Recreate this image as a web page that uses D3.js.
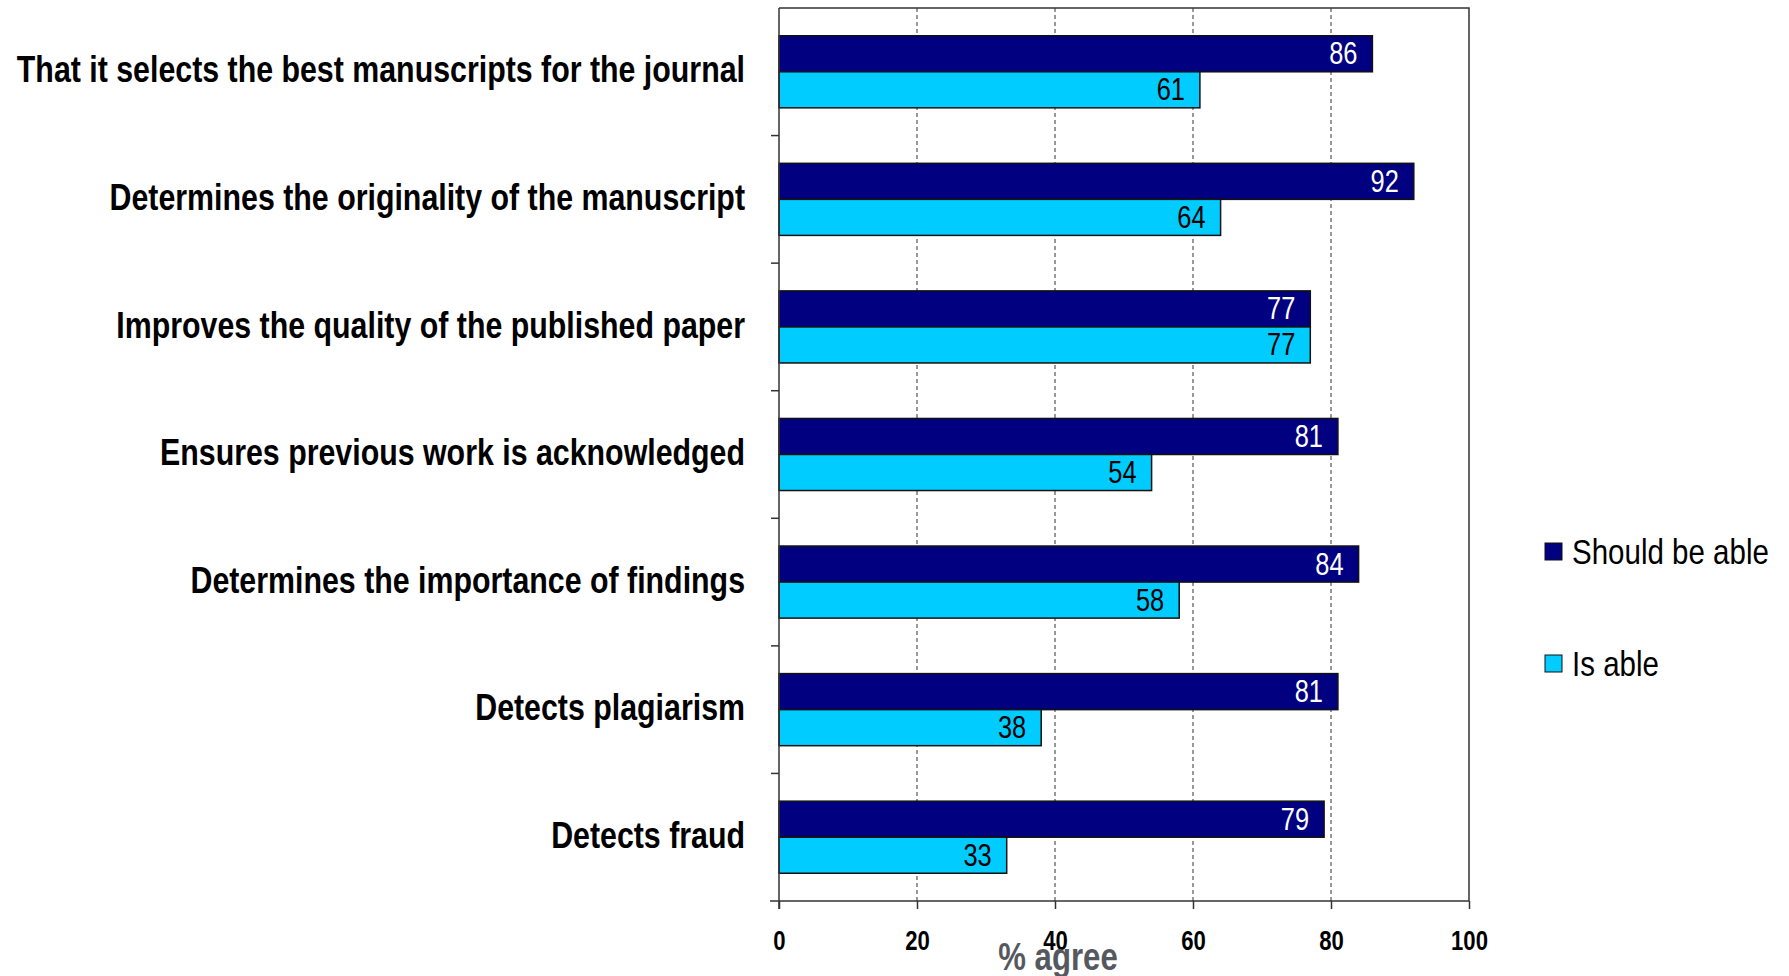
<!DOCTYPE html>
<html>
<head>
<meta charset="utf-8">
<script src="https://cdn.jsdelivr.net/npm/d3@7"></script>
<style>
  body { margin: 0; background: #fff; }
  text { font-family: 'Liberation Sans', Arial, sans-serif; }
</style>
</head>
<body>
<svg id="chart" width="1789" height="976"></svg>
<script>
// data
const categories = [
  "That it selects the best manuscripts for the journal",
  "Determines the originality of the manuscript",
  "Improves the quality of the published paper",
  "Ensures previous work is acknowledged",
  "Determines the importance of findings",
  "Detects plagiarism",
  "Detects fraud"
];
const seriesNames = ["Should be able", "Is able"];
const shouldBeAble = [86, 92, 77, 81, 84, 81, 79];
const isAble = [61, 64, 77, 54, 58, 38, 33];
const xTicks = [0, 20, 40, 60, 80, 100];

const colors = ["#000080", "#00ccff"];
const labelColors = ["#ffffff", "#000000"];

// narrow look: Arial Narrow is Arial squeezed to 82%
const narrow = 0.82;
function squeeze(sel, fx, fy) {
  sel.attr("transform", (d, i) => `translate(${fx(d, i)},${fy(d, i)}) scale(${narrow},1)`)
    .attr("x", 0).attr("y", 0);
}

// layout
let margin = {top: 8, left: 779, right: 320, bottom: 75};
let W = 1789, H = 976;

let svg = d3.select("#chart");

let x = d3.scaleLinear()
  .domain([0, 100])
  .range([margin.left, W - margin.right]);

let y = d3.scaleBand()
  .domain(categories)
  .range([margin.top, H - margin.bottom])
  .padding(0);

let ySub = d3.scaleBand()
  .domain(seriesNames)
  .range([0, y.bandwidth()])
  .paddingOuter(0.77)
  .paddingInner(0);

let plotTop = margin.top, plotBottom = H - margin.bottom;

//////////////////////////
// gridlines + frame
//////////////////////////
svg.append("g")
  .selectAll("line")
  .data(xTicks.filter(d => d > 0 && d < 100))
  .enter()
  .append("line")
  .attr("x1", d => x(d)).attr("x2", d => x(d))
  .attr("y1", plotTop).attr("y2", plotBottom)
  .attr("stroke", "#333")
  .attr("stroke-width", 1)
  .attr("stroke-dasharray", "4,3");

// top + right border
svg.append("path")
  .attr("d", `M${x(0)},${plotTop}H${x(100)}V${plotBottom}`)
  .attr("fill", "none")
  .attr("stroke", "#333")
  .attr("stroke-width", 1.5);

//////////////////////////
// bars
//////////////////////////
let rows = categories.map((c, i) => ({
  cat: c,
  vals: [{s: seriesNames[0], v: shouldBeAble[i], k: 0}, {s: seriesNames[1], v: isAble[i], k: 1}]
}));

let groups = svg.append("g")
  .selectAll("g")
  .data(rows)
  .enter()
  .append("g")
  .attr("transform", d => `translate(0,${y(d.cat)})`);

groups.selectAll("rect")
  .data(d => d.vals)
  .enter()
  .append("rect")
  .attr("x", x(0))
  .attr("y", d => ySub(d.s))
  .attr("width", d => x(d.v) - x(0))
  .attr("height", ySub.bandwidth())
  .attr("fill", d => colors[d.k])
  .attr("stroke", "#111")
  .attr("stroke-width", 1.5);

groups.selectAll("text.val")
  .data(d => d.vals)
  .enter()
  .append("text")
  .attr("class", "val")
  .attr("dy", "0.34em")
  .attr("text-anchor", "end")
  .attr("font-size", 31)
  .attr("fill", d => labelColors[d.k])
  .text(d => d.v)
  .call(squeeze, d => x(d.v) - 15, d => ySub(d.s) + ySub.bandwidth() / 2);

//////////////////////////
// axes
//////////////////////////
// left axis line with ticks on category boundaries
let leftAxis = svg.append("g");
leftAxis.append("line")
  .attr("x1", x(0)).attr("x2", x(0))
  .attr("y1", plotTop).attr("y2", plotBottom + 8)
  .attr("stroke", "#333").attr("stroke-width", 1.5);
leftAxis.selectAll("line.tk")
  .data(categories.slice(1))
  .enter()
  .append("line")
  .attr("class", "tk")
  .attr("x1", x(0) - 8).attr("x2", x(0))
  .attr("y1", d => y(d)).attr("y2", d => y(d))
  .attr("stroke", "#333").attr("stroke-width", 1.5);

leftAxis.selectAll("text.cat")
  .data(categories)
  .enter()
  .append("text")
  .attr("class", "cat")
  .attr("dy", "0.34em")
  .attr("text-anchor", "end")
  .attr("font-size", 37)
  .attr("font-weight", "bold")
  .attr("fill", "#000")
  .text(d => d)
  .call(squeeze, () => x(0) - 34, d => y(d) + y.bandwidth() / 2 - 2);

// bottom axis
let bottomAxis = svg.append("g")
  .attr("transform", `translate(0,${plotBottom})`)
  .call(d3.axisBottom(x).tickValues(xTicks).tickSize(8).tickSizeOuter(0).tickPadding(22));

bottomAxis.select(".domain")
  .attr("d", `M${x(0) - 9},0H${x(100)}`)
  .attr("stroke", "#333").attr("stroke-width", 1.5);
bottomAxis.selectAll(".tick line").attr("stroke", "#333").attr("stroke-width", 1.5);
bottomAxis.selectAll(".tick text")
  .attr("font-family", "'Liberation Sans', Arial, sans-serif")
  .attr("font-size", 27)
  .attr("font-weight", "bold")
  .attr("fill", "#000")
  .attr("transform", `scale(${narrow},1)`)
  .attr("x", 0);

svg.append("text")
  .attr("text-anchor", "middle")
  .attr("font-size", 38)
  .attr("font-weight", "bold")
  .attr("fill", "#55595f")
  .text("% agree")
  .call(squeeze, () => x(40) + 3, () => 970);

//////////////////////////
// legend
//////////////////////////
let legend = svg.append("g")
  .selectAll("g")
  .data(seriesNames)
  .enter()
  .append("g")
  .attr("transform", (d, i) => `translate(1545,${552 + i * 112})`);

legend.append("rect")
  .attr("x", 0).attr("y", -9)
  .attr("width", 17).attr("height", 17)
  .attr("fill", (d, i) => colors[i])
  .attr("stroke", "#111").attr("stroke-width", 1);

legend.append("text")
  .attr("dy", "0.34em")
  .attr("font-size", 36)
  .attr("fill", "#000")
  .text(d => d)
  .call(squeeze, () => 27, () => 0);
</script>
</body>
</html>
